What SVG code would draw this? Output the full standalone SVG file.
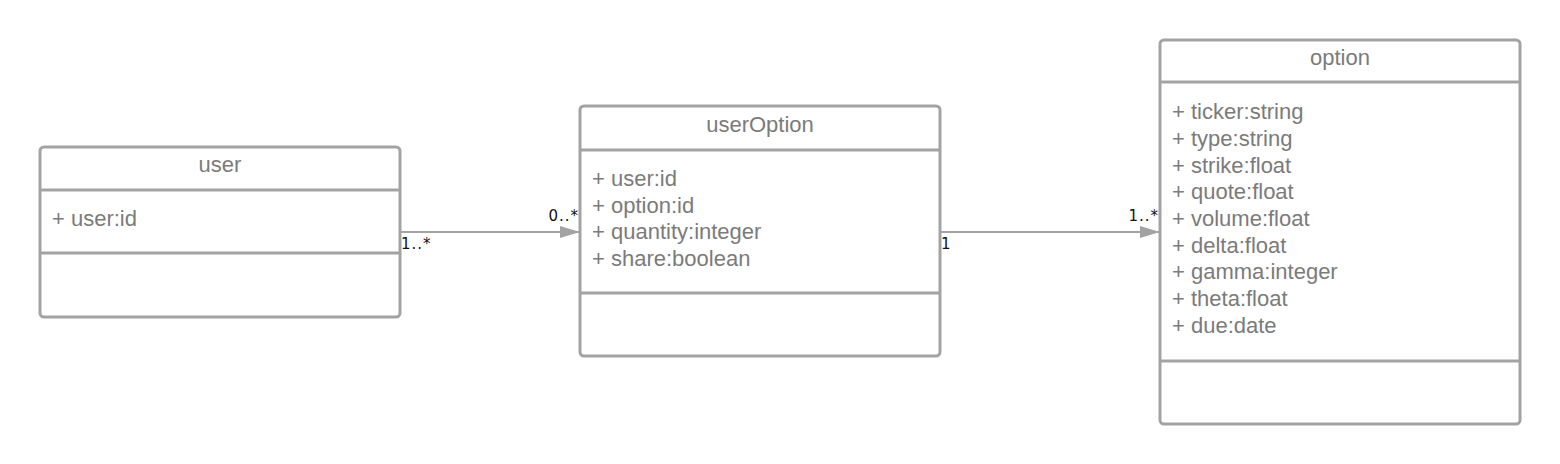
<svg xmlns="http://www.w3.org/2000/svg" width="1560" height="464" viewBox="0 0 1560 464">
<style>
.box{fill:#fff;stroke:#a3a3a3;stroke-width:3}
.div{stroke:#a3a3a3;stroke-width:3}
.t{font-family:"Liberation Sans",Arial,sans-serif;font-size:22px;fill:#7b7b7b}
.c{text-anchor:middle}
.m{font-family:"DejaVu Sans",sans-serif;font-size:15px;fill:#111;letter-spacing:1px}
.e{text-anchor:end}
.ln{stroke:#a3a3a3;stroke-width:2;fill:none}
</style>
<defs>
<marker id="arr" markerUnits="userSpaceOnUse" markerWidth="22" markerHeight="14" refX="20" refY="6" orient="auto">
<path d="M0,0 L20,6 L0,12 Z" fill="#a3a3a3"/>
</marker>
</defs>
<rect width="1560" height="464" fill="#fff"/>
<g id="connectors">
<line class="ln" x1="400" y1="232" x2="580" y2="232" marker-end="url(#arr)"/>
<text class="m" x="401" y="248.5">1..*</text>
<text class="m e" x="579" y="220.5">0..*</text>
<line class="ln" x1="940" y1="232" x2="1160" y2="232" marker-end="url(#arr)"/>
<text class="m" x="941" y="248.5">1</text>
<text class="m e" x="1159" y="220.5">1..*</text>
</g>
<g id="user">
<rect class="box" x="40" y="147" width="360" height="170" rx="4"/>
<line class="div" x1="40" y1="190" x2="400" y2="190"/>
<line class="div" x1="40" y1="253" x2="400" y2="253"/>
<text class="t c" x="220" y="172">user</text>
<text class="t" x="52" y="226">+ user:id</text>
</g>
<g id="userOption">
<rect class="box" x="580" y="106" width="360" height="250" rx="4"/>
<line class="div" x1="580" y1="150" x2="940" y2="150"/>
<line class="div" x1="580" y1="293" x2="940" y2="293"/>
<text class="t c" x="760" y="132">userOption</text>
<text class="t" x="592" y="186">+ user:id</text>
<text class="t" x="592" y="212.7">+ option:id</text>
<text class="t" x="592" y="239.3">+ quantity:integer</text>
<text class="t" x="592" y="266">+ share:boolean</text>
</g>
<g id="option">
<rect class="box" x="1160" y="40" width="360" height="384" rx="4"/>
<line class="div" x1="1160" y1="82" x2="1520" y2="82"/>
<line class="div" x1="1160" y1="361" x2="1520" y2="361"/>
<text class="t c" x="1340" y="65">option</text>
<text class="t" x="1172" y="119.3">+ ticker:string</text>
<text class="t" x="1172" y="146">+ type:string</text>
<text class="t" x="1172" y="172.7">+ strike:float</text>
<text class="t" x="1172" y="199.3">+ quote:float</text>
<text class="t" x="1172" y="226">+ volume:float</text>
<text class="t" x="1172" y="252.7">+ delta:float</text>
<text class="t" x="1172" y="279.3">+ gamma:integer</text>
<text class="t" x="1172" y="306">+ theta:float</text>
<text class="t" x="1172" y="332.7">+ due:date</text>
</g>
</svg>
